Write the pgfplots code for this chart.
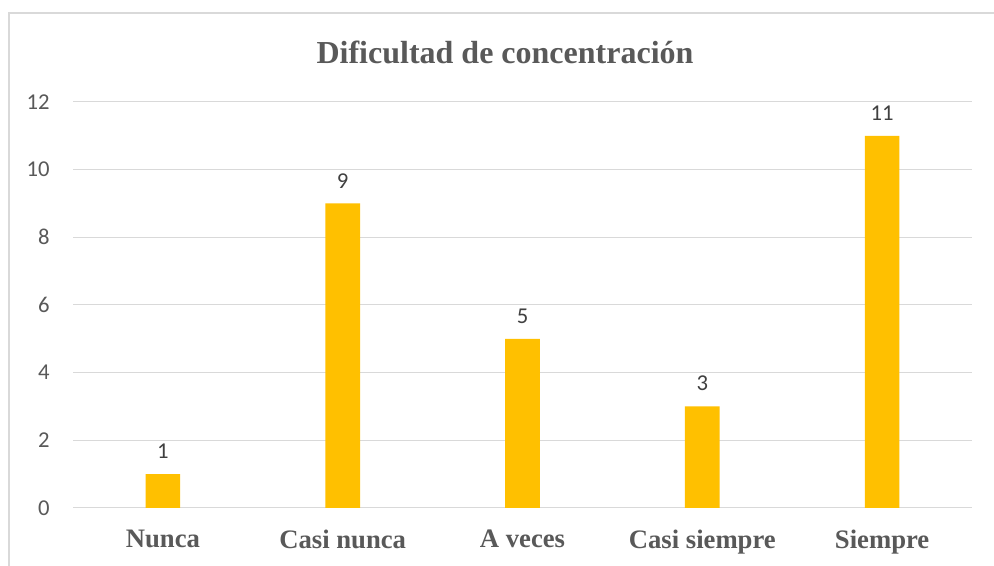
\documentclass[border=0pt]{standalone}
\usepackage{pgfplots}
\pgfplotsset{compat=1.18}
\usepackage{fontspec}
\setmainfont{Liberation Serif}
\newfontfamily\calibri{Carlito}
\definecolor{barc}{HTML}{FFC000}
\definecolor{gridc}{HTML}{D9D9D9}
\definecolor{tickc}{HTML}{595959}
\definecolor{labc}{HTML}{404040}
\begin{document}
\begin{tikzpicture}
\fill[white] (0pt,0pt) rectangle (745.5pt,424.5pt);
\draw[gridc,line width=1.2pt] (6.75pt,-4pt) -- (6.75pt,414.75pt) -- (750pt,414.75pt);
\begin{axis}[
  at={(54.75pt,43.5pt)}, anchor=south west,
  scale only axis, width=674.25pt, height=304.5pt,
  xmin=-0.5, xmax=4.5, ymin=0, ymax=12,
  axis line style={draw=none},
  ytick={0,2,...,12},
  ymajorgrids, grid style={draw=gridc, line width=0.75pt},
  xtick={0,1,2,3,4},
  xticklabels={Nunca,Casi nunca,A veces,Casi siempre,Siempre},
  xticklabel style={font=\fontsize{20}{22}\selectfont\bfseries, text=tickc, yshift=-13pt},
  yticklabel style={font=\calibri\fontsize{17}{19}\selectfont, text=tickc, xshift=-14pt},
  /pgf/number format/assume math mode=true,
  major tick length=0pt,
  ybar, bar width=26pt,
  nodes near coords,
  every node near coord/.append style={font=\calibri\fontsize{17}{19}\selectfont, text=labc, yshift=8pt},
  clip=false,
]
\addplot[fill=barc, draw=none] coordinates {(0,1) (1,9) (2,5) (3,3) (4,11)};
\end{axis}
\node[font=\fontsize{24}{27}\selectfont\bfseries, text=tickc] at (378.75pt,385.5pt) {Dificultad de concentración};
\pgfresetboundingbox
\useasboundingbox (0pt,0pt) rectangle (745.5pt,424.5pt);
\end{tikzpicture}
\end{document}
